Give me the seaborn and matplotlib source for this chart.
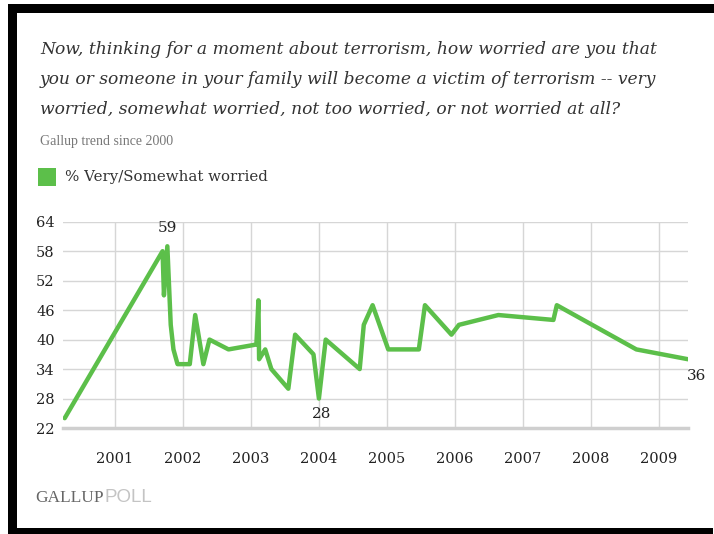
import matplotlib
matplotlib.use("Agg")
import matplotlib.pyplot as plt
from matplotlib.patches import Rectangle
import seaborn as sns
import pandas as pd

# ---- data ----
dates = [2000.26, 2001.70, 2001.72, 2001.77, 2001.82, 2001.86, 2001.92, 2002.10,
         2002.18, 2002.30, 2002.39, 2002.67, 2003.08, 2003.11, 2003.12, 2003.21,
         2003.30, 2003.55, 2003.65, 2003.92, 2004.00, 2004.10, 2004.60, 2004.66,
         2004.79, 2005.02, 2005.47, 2005.56, 2005.95, 2006.06, 2006.64, 2007.45,
         2007.50, 2008.67, 2009.43]
worried = [24, 58, 49, 59, 43, 38, 35, 35, 45, 35, 40, 38, 39, 48, 36, 38, 34, 30,
           41, 37, 28, 40, 34, 43, 47, 38, 38, 47, 41, 43, 45, 44, 47, 38, 36]
year_ticks = [2001, 2002, 2003, 2004, 2005, 2006, 2007, 2008, 2009]
y_ticks = [22, 28, 34, 40, 46, 52, 58, 64]
series_label = "% Very/Somewhat worried"

df = pd.DataFrame({"date": dates, "pct": worried})

W, H = 714, 534
fig = plt.figure(figsize=(W / 100, H / 100), dpi=100)
fig.patch.set_facecolor("white")

def fx(px):
    return px / W

def fy(py):
    return 1 - py / H

ax = fig.add_axes([fx(63), fy(428), fx(688) - fx(63), fy(221.7) - fy(428)])
sns.set_style("white")
green = "#5cbf4a"
sns.lineplot(data=df, x="date", y="pct", ax=ax, color=green, linewidth=3.2,
             sort=False, estimator=None, legend=False)

ax.set_xlim(2000.235, 2009.43)
ax.set_ylim(22, 64)
ax.set_xticks(year_ticks)
ax.set_xticklabels([str(y) for y in year_ticks])
ax.set_yticks(y_ticks)
ax.grid(True, color="#d6d6d6", linewidth=1.0)
ax.set_axisbelow(True)
for s in ["top", "right", "left"]:
    ax.spines[s].set_visible(False)
ax.spines["bottom"].set_color("#cfcfcf")
ax.spines["bottom"].set_linewidth(2.5)
ax.set_xlabel("")
ax.set_ylabel("")
ax.tick_params(axis="both", length=0, labelsize=10.5, colors="#222222")
ax.tick_params(axis="x", pad=17)
ax.tick_params(axis="y", pad=6)
for lab in ax.get_xticklabels() + ax.get_yticklabels():
    lab.set_family("DejaVu Serif")

# annotations
ax.annotate("59", xy=(2001.77, 59), xytext=(0, 8), textcoords="offset points",
            ha="center", va="bottom", fontsize=11, family="DejaVu Serif", color="#222222")
ax.annotate("28", xy=(2004.00, 28), xytext=(2, -6), textcoords="offset points",
            ha="center", va="top", fontsize=11, family="DejaVu Serif", color="#222222")
ax.annotate("36", xy=(2009.43, 36), xytext=(6, -7), textcoords="offset points",
            ha="center", va="top", fontsize=11, family="DejaVu Serif", color="#222222",
            annotation_clip=False)

# title text
title_lines = [
    "Now, thinking for a moment about terrorism, how worried are you that",
    "you or someone in your family will become a victim of terrorism -- very",
    "worried, somewhat worried, not too worried, or not worried at all?",
]
for i, line in enumerate(title_lines):
    fig.text(fx(40), fy(49 + 30 * i), line, fontsize=12.35, style="italic",
             family="DejaVu Serif", color="#333333", va="center", ha="left")
fig.text(fx(40), fy(142), "Gallup trend since 2000", fontsize=10,
         family="Liberation Serif", color="#777777", va="center", ha="left")

# legend
fig.patches.append(Rectangle((fx(38), fy(186)), fx(56) - fx(38), fy(168) - fy(186),
                             transform=fig.transFigure, facecolor=green, edgecolor="none"))
fig.text(fx(65), fy(177), series_label, fontsize=10.8, family="DejaVu Serif",
         color="#333333", va="center", ha="left")

# footer
fig.text(fx(35), fy(498), "GALLUP", fontsize=12.5, family="Liberation Serif",
         color="#666666", va="center", ha="left")
fig.text(fx(105), fy(498), "POLL", fontsize=13.5, family="Liberation Sans",
         color="#c4c4c4", va="center", ha="left")

# black frame
for (x0, y0, x1, y1) in [(8, 4, 714, 13), (8, 4, 17, 534), (8, 528, 713, 534)]:
    fig.patches.append(Rectangle((fx(x0), fy(y1)), fx(x1) - fx(x0), fy(y0) - fy(y1),
                                 transform=fig.transFigure, facecolor="black",
                                 edgecolor="none"))

fig.savefig("out.png", dpi=100, facecolor="white")
